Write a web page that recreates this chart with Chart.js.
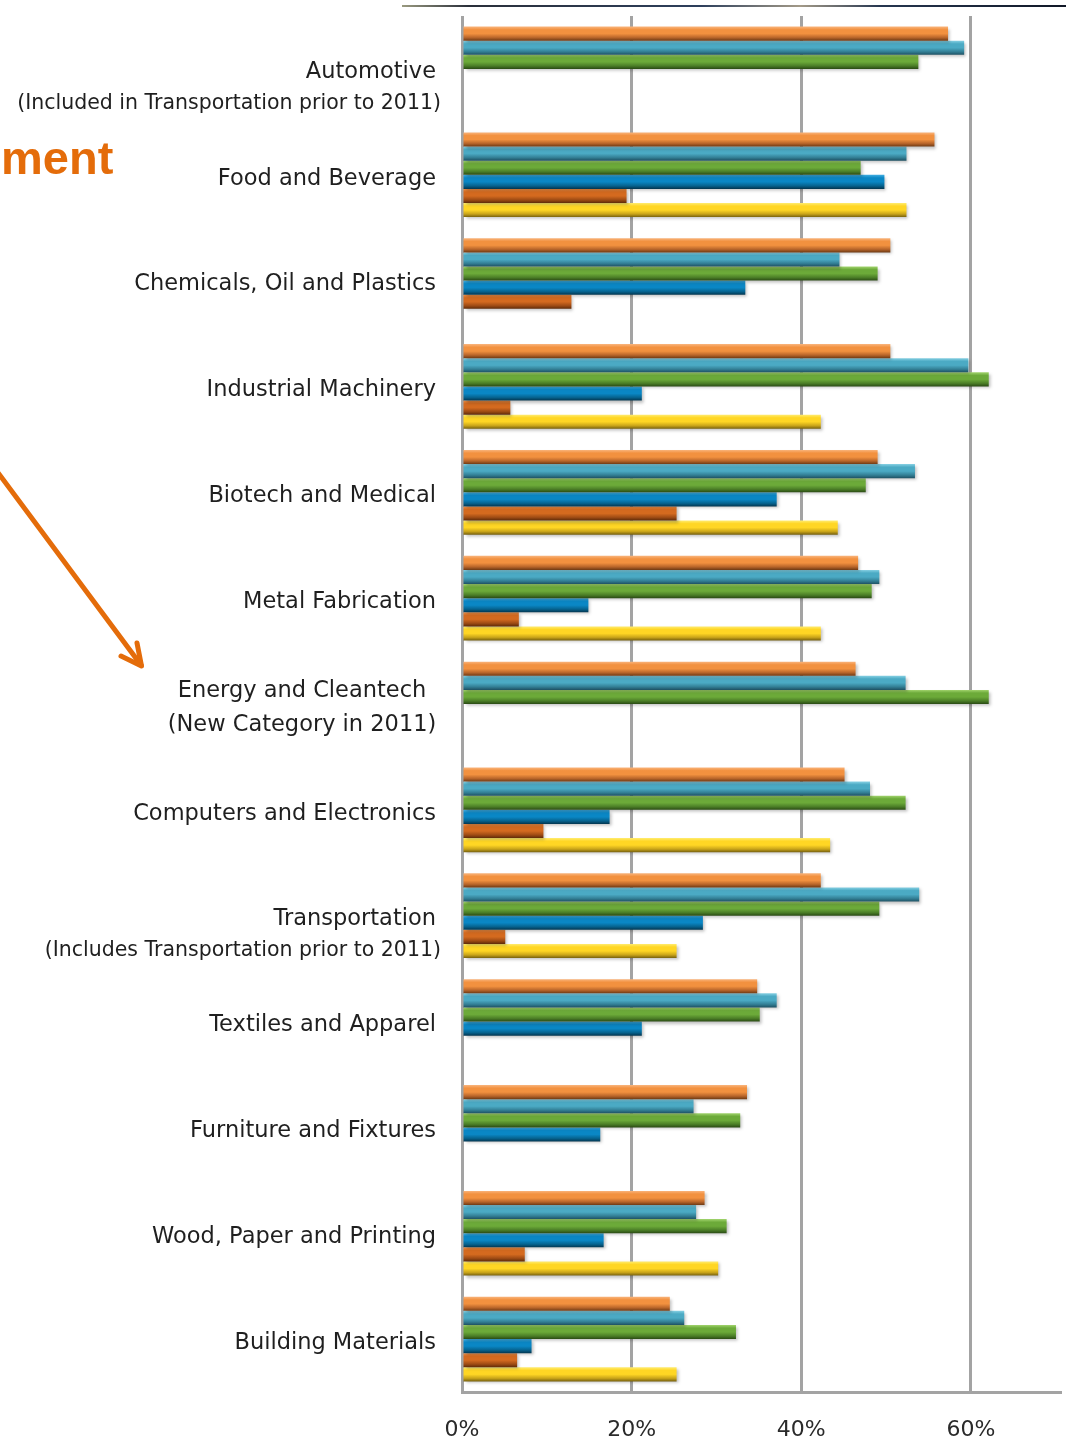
<!DOCTYPE html>
<html>
<head>
<meta charset="utf-8">
<script src="https://cdn.jsdelivr.net/npm/chart.js@4.4.1/dist/chart.umd.min.js"></script>
<style>
  html, body { margin: 0; padding: 0; background: #ffffff; }
  canvas { display: block; }
</style>
</head>
<body>
<canvas id="chart" width="1071" height="1440"></canvas>
<script>
// Industry categories, top to bottom
const categories = [
  'Automotive',
  'Food and Beverage',
  'Chemicals, Oil and Plastics',
  'Industrial Machinery',
  'Biotech and Medical',
  'Metal Fabrication',
  'Energy and Cleantech',
  'Computers and Electronics',
  'Transportation',
  'Textiles and Apparel',
  'Furniture and Fixtures',
  'Wood, Paper and Printing',
  'Building Materials'
];

// Second line under some category names
const subtitles = [
  '(Included in Transportation prior to 2011)',
  '', '', '', '', '',
  '(New Category in 2011)',
  '',
  '(Includes Transportation prior to 2011)',
  '', '', '', ''
];

// Share of respondents (%) per series; null = no bar for that category
const seriesA = [57.3, 55.7, 50.5, 50.5, 49.0, 46.7, 46.4, 45.1, 42.3, 34.8, 33.6, 28.6, 24.5];
const seriesB = [59.2, 52.4, 44.5, 59.7, 53.4, 49.2, 52.3, 48.1, 53.9, 37.1, 27.3, 27.6, 26.2];
const seriesC = [53.8, 47.0, 49.0, 62.1, 47.6, 48.3, 62.1, 52.3, 49.2, 35.1, 32.8, 31.2, 32.3];
const seriesD = [null, 49.8, 33.4, 21.2, 37.1, 14.9, null, 17.4, 28.4, 21.2, 16.3, 16.7, 8.2];
const seriesE = [null, 19.4, 12.9, 5.7, 25.3, 6.7, null, 9.6, 5.1, null, null, 7.4, 6.5];
const seriesF = [null, 52.4, null, 42.3, 44.3, 42.3, null, 43.4, 25.3, null, null, 30.2, 25.3];

// Percentage tick marks on the value axis
const tickValues = [0, 20, 40, 60];

// Cylinder-style shading for each series: highlight, body, shadow
const palette = [
  { light: '#F9B47C', main: '#F2913F', mid: '#B8652A', dark: '#6E3A14' },
  { light: '#86D0E3', main: '#4BAAC4', mid: '#337F95', dark: '#1E5163' },
  { light: '#A2D46E', main: '#6CAA39', mid: '#4B7E27', dark: '#2A4A14' },
  { light: '#42AEE2', main: '#0A87C5', mid: '#06638F', dark: '#033650' },
  { light: '#EC8E46', main: '#D46A1F', mid: '#9E4B14', dark: '#5E2A08' },
  { light: '#FFEC70', main: '#FFD624', mid: '#C9A419', dark: '#76600E' }
];

const seriesList = [seriesA, seriesB, seriesC, seriesD, seriesE, seriesF];
const seriesNames = ['Series A', 'Series B', 'Series C', 'Series D', 'Series E', 'Series F'];

const gridGrey = '#a3a3a3';
const labelFont = '"DejaVu Sans", "Liberation Sans", sans-serif';

// Gives each bar a vertical gradient and a soft drop shadow
const barShading = {
  id: 'barShading',
  beforeDatasetDraw(chart, args) {
    const ctx = chart.ctx;
    const p = palette[args.index];
    args.meta.data.forEach(el => {
      const { y, height } = el.getProps(['y', 'height'], true);
      if (!isFinite(y) || !isFinite(height)) return;
      const top = y - height / 2;
      const g = ctx.createLinearGradient(0, top, 0, top + height);
      g.addColorStop(0, p.light);
      g.addColorStop(0.22, p.main);
      g.addColorStop(0.5, p.main);
      g.addColorStop(0.78, p.mid);
      g.addColorStop(1, p.dark);
      el.options.backgroundColor = g;
    });
    ctx.save();
    ctx.shadowColor = 'rgba(0,0,0,0.25)';
    ctx.shadowOffsetX = 2;
    ctx.shadowOffsetY = 2;
    ctx.shadowBlur = 3;
  },
  afterDatasetDraw(chart) {
    chart.ctx.restore();
  }
};

// Category names drawn beside the value axis, with their optional second line
const categoryLabels = {
  id: 'categoryLabels',
  afterDraw(chart) {
    const ctx = chart.ctx;
    const yScale = chart.scales.y;
    const right = chart.chartArea.left - 26;
    ctx.save();
    ctx.fillStyle = '#1f1f1f';
    ctx.textBaseline = 'middle';
    categories.forEach((name, i) => {
      const yc = yScale.getPixelForValue(i);
      const sub = subtitles[i];
      if (!sub) {
        ctx.font = '22.5px ' + labelFont;
        ctx.textAlign = 'right';
        ctx.fillText(name, right, yc + 4);
        return;
      }
      if (i === 6) {
        // two equal lines, centred as a block
        ctx.font = '22.5px ' + labelFont;
        ctx.textAlign = 'center';
        ctx.fillText(name, right - 134, yc - 13);
        ctx.fillText(sub, right - 134, yc + 21);
      } else {
        ctx.font = '22.5px ' + labelFont;
        ctx.textAlign = 'right';
        ctx.fillText(name, right, yc + 3);
        ctx.font = '20.5px ' + labelFont;
        ctx.fillText(sub, right + 5, yc + 35);
      }
    });
    ctx.restore();
  }
};

// Slide furniture around the chart: header rule, title fragment and pointer arrow
const slideDecor = {
  id: 'slideDecor',
  afterDraw(chart) {
    const ctx = chart.ctx;
    ctx.save();
    const rule = ctx.createLinearGradient(402, 0, 1066, 0);
    rule.addColorStop(0, '#9a9a80');
    rule.addColorStop(0.1, '#2a2f3a');
    rule.addColorStop(0.45, '#2d3f5c');
    rule.addColorStop(0.6, '#a39a88');
    rule.addColorStop(0.72, '#263650');
    rule.addColorStop(1, '#111827');
    ctx.fillStyle = rule;
    ctx.fillRect(402, 5, 664, 2);

    ctx.fillStyle = '#E46C0A';
    ctx.font = 'bold 47px "Liberation Sans", Arial, sans-serif';
    ctx.textAlign = 'left';
    ctx.textBaseline = 'alphabetic';
    ctx.fillText('ment', 1, 174);

    ctx.strokeStyle = '#E46C0A';
    ctx.lineWidth = 5;
    ctx.lineCap = 'round';
    ctx.lineJoin = 'round';
    ctx.beginPath();
    ctx.moveTo(-4, 470);
    ctx.lineTo(141, 665);
    ctx.stroke();
    ctx.beginPath();
    ctx.moveTo(137, 643);
    ctx.lineTo(141.5, 666);
    ctx.lineTo(121, 656);
    ctx.stroke();
    ctx.restore();
  }
};

const datasets = seriesList.map((values, i) => ({
  label: seriesNames[i],
  data: values,
  backgroundColor: (c) => palette[c.datasetIndex].main,
  borderWidth: 0,
  barPercentage: 1.0,
  categoryPercentage: 0.8
}));

new Chart(document.getElementById('chart'), {
  type: 'bar',
  data: { labels: categories, datasets },
  options: {
    indexAxis: 'y',
    responsive: false,
    animation: false,
    devicePixelRatio: 1,
    layout: { padding: { top: 16, right: 11, left: 0, bottom: 0 } },
    plugins: {
      legend: { display: false },
      tooltip: { enabled: false },
      title: { display: false }
    },
    scales: {
      x: {
        type: 'linear',
        position: 'bottom',
        min: 0,
        max: 70.5,
        afterBuildTicks: (scale) => {
          scale.ticks = tickValues.map(v => ({ value: v }));
        },
        afterFit: (scale) => { scale.height = 48; },
        grid: { color: gridGrey, lineWidth: 3, drawTicks: false },
        border: { display: true, color: gridGrey, width: 3 },
        ticks: {
          padding: 25,
          color: '#2a2a2a',
          font: { family: labelFont, size: 22 },
          callback: (v) => v + '%'
        }
      },
      y: {
        type: 'category',
        afterFit: (scale) => { scale.width = 462; },
        grid: { display: false },
        border: { display: false },
        ticks: { display: false }
      }
    }
  },
  plugins: [barShading, categoryLabels, slideDecor]
});
</script>
</body>
</html>
